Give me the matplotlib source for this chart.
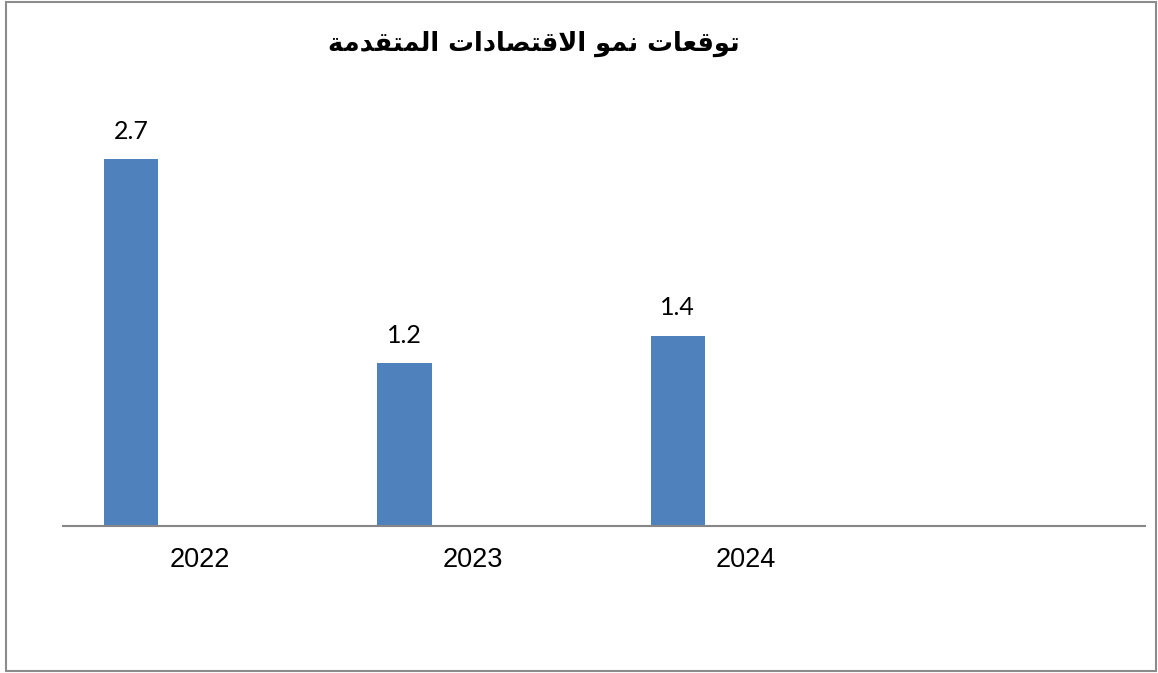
import matplotlib
matplotlib.use("Agg")
import matplotlib.pyplot as plt
from matplotlib.patches import Rectangle

# DATA
title = "توقعات نمو الاقتصادات المتقدمة"
categories = ["2022", "2023", "2024", ""]
values = [2.7, 1.2, 1.4]

# Arabic contextual forms (isolated, final, initial, medial)
FORMS = {
    "ا": ("\uFE8D", "\uFE8E", None, None),
    "ت": ("\uFE95", "\uFE96", "\uFE97", "\uFE98"),
    "و": ("\uFEED", "\uFEEE", None, None),
    "ق": ("\uFED5", "\uFED6", "\uFED7", "\uFED8"),
    "ع": ("\uFEC9", "\uFECA", "\uFECB", "\uFECC"),
    "ن": ("\uFEE5", "\uFEE6", "\uFEE7", "\uFEE8"),
    "م": ("\uFEE1", "\uFEE2", "\uFEE3", "\uFEE4"),
    "ل": ("\uFEDD", "\uFEDE", "\uFEDF", "\uFEE0"),
    "ص": ("\uFEB9", "\uFEBA", "\uFEBB", "\uFEBC"),
    "د": ("\uFEA9", "\uFEAA", None, None),
    "ة": ("\uFE93", "\uFE94", None, None),
    "لا": ("\uFEFB", "\uFEFC", None, None),
}


def shape(text):
    tokens = []
    i = 0
    while i < len(text):
        if text[i] == "ل" and i + 1 < len(text) and text[i + 1] == "ا":
            tokens.append("لا")
            i += 2
        else:
            tokens.append(text[i])
            i += 1
    out = []
    for k, t in enumerate(tokens):
        if t not in FORMS:
            out.append(t)
            continue
        prev = tokens[k - 1] if k > 0 else None
        nxt = tokens[k + 1] if k + 1 < len(tokens) else None
        f = FORMS[t]
        jp = prev in FORMS and FORMS[prev][2] is not None
        jn = nxt in FORMS and f[2] is not None
        out.append(f[{(False, False): 0, (True, False): 1, (False, True): 2, (True, True): 3}[(jp, jn)]])
    return "".join(reversed(out))


fig = plt.figure(figsize=(11.58, 6.73), dpi=100)
ax = fig.add_axes([0.0544, 0.2184, 0.9344, 0.6058])

x = list(range(len(values)))
bx = [i - 0.25 for i in x]
bars = ax.bar(bx, values, width=0.198, color="#4F81BD")
for b, v in zip(bars, values):
    ax.text(b.get_x() + b.get_width() / 2, v + 0.12, f"{v:.1f}", ha="center", va="bottom",
            fontsize=18, family="Lato")

ax.set_xlim(-0.5, 3.46)
ax.set_ylim(0, 3.0)
ax.set_xticks(range(len(categories)))
ax.set_xticklabels(categories, fontsize=19.5, family="Liberation Sans")
ax.tick_params(axis="x", length=0, pad=15)
ax.set_yticks([])
for s in ["top", "right", "left"]:
    ax.spines[s].set_visible(False)
ax.spines["bottom"].set_color("#868686")
ax.spines["bottom"].set_linewidth(1.5)

fig.text(0.461, 0.935, shape(title), ha="center", va="center", fontsize=18.5,
         fontweight="bold", family="DejaVu Sans")

fig.patches.append(Rectangle((0.005, 0.003), 0.993, 0.994, transform=fig.transFigure,
                             fill=False, edgecolor="#8c8c8c", linewidth=1.5))

fig.savefig("out.png", dpi=100)
